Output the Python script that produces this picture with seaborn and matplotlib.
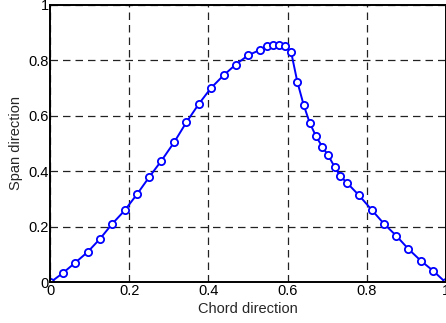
import matplotlib
matplotlib.use("Agg")
import matplotlib.pyplot as plt
import seaborn as sns
import pandas as pd

# Coordenadas
chord = [0.0, 0.031, 0.063, 0.094, 0.125, 0.156, 0.188, 0.219, 0.25, 0.281,
         0.313, 0.344, 0.375, 0.406, 0.438, 0.469, 0.5, 0.531, 0.547, 0.563,
         0.578, 0.594, 0.609, 0.625, 0.641, 0.656, 0.672, 0.688, 0.703, 0.719,
         0.734, 0.75, 0.781, 0.813, 0.844, 0.875, 0.906, 0.938, 0.969, 1.0]
span = [0.0, 0.033, 0.071, 0.109, 0.156, 0.21, 0.259, 0.317, 0.379, 0.438,
        0.504, 0.576, 0.641, 0.699, 0.745, 0.784, 0.817, 0.837, 0.849, 0.854,
        0.854, 0.849, 0.83, 0.721, 0.638, 0.575, 0.526, 0.488, 0.457, 0.416,
        0.382, 0.359, 0.313, 0.261, 0.211, 0.168, 0.12, 0.077, 0.041, 0.0]
xticks = [0, 0.2, 0.4, 0.6, 0.8, 1]
xticklabels = ["0", "0.2", "0.4", "0.6", "0.8", "1"]
yticks = [0, 0.2, 0.4, 0.6, 0.8, 1]
yticklabels = ["0", "0.2", "0.4", "0.6", "0.8", "1"]

df = pd.DataFrame({"Chord": chord, "Span": span})

sns.set_style("white")
plt.rcParams["font.family"] = ["Liberation Sans", "DejaVu Sans"]

fig = plt.figure(figsize=(4.46, 3.23), dpi=100)
ax = fig.add_axes([0.1132, 0.126, 0.8857, 0.86])

sns.lineplot(data=df, x="Chord", y="Span", ax=ax, sort=False, color="#0000ff",
             linewidth=1.4, marker="o", markersize=5.2, markerfacecolor="white",
             markeredgecolor="#0000ff", markeredgewidth=1.3)

ax.set_xlim(0, 1)
ax.set_ylim(0, 1)
ax.set_xticks(xticks)
ax.set_xticklabels(xticklabels)
ax.set_yticks(yticks)
ax.set_yticklabels(yticklabels)
ax.grid(True, color="#222222", linestyle=(0, (6, 4)), linewidth=0.9)
ax.tick_params(axis="both", direction="in", length=0, pad=1, labelsize=10.5,
               colors="black")

for side in ["left", "bottom", "top", "right"]:
    ax.spines[side].set_color("black")
    ax.spines[side].set_linewidth(1.4)

ax.set_xlabel("Chord direction", fontsize=10.5, labelpad=3)
ax.set_ylabel("Span direction", fontsize=10.5, labelpad=4)

fig.savefig("out.png", dpi=100)
